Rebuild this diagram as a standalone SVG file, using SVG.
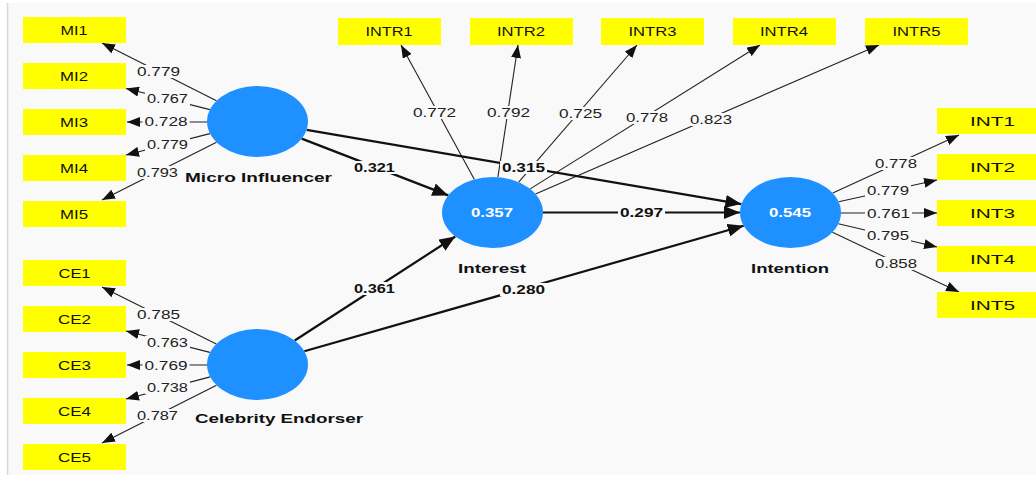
<svg xmlns="http://www.w3.org/2000/svg" width="1036" height="477" viewBox="0 0 1036 477">
<style>
.box{fill:#ffff00}
.bt{font-family:"Liberation Sans",Arial,sans-serif;font-size:13px;fill:#111;text-anchor:middle}
.lv{fill:#1e90ff}
.nt{font-family:"Liberation Sans",Arial,sans-serif;font-size:13.5px;font-weight:bold;fill:#111;text-anchor:middle}
.vt{font-family:"Liberation Sans",Arial,sans-serif;font-size:13px;font-weight:bold;fill:#fff;text-anchor:middle}
.ld{stroke:#222;stroke-width:1.1;fill:none;marker-end:url(#a1)}
.st{stroke:#111;stroke-width:2.2;fill:none;marker-end:url(#a2)}
.lb{fill:#f9f9f9}
.lt{font-family:"Liberation Sans",Arial,sans-serif;font-size:13px;fill:#222;text-anchor:middle}
.pt{font-family:"Liberation Sans",Arial,sans-serif;font-size:13px;font-weight:bold;fill:#111;text-anchor:middle}
</style>
<defs>
<marker id="a1" markerUnits="userSpaceOnUse" markerWidth="13" markerHeight="10" refX="13" refY="5" orient="auto"><path d="M0,0 L13,5 L0,10 z" fill="#111"/></marker>
<marker id="a2" markerUnits="userSpaceOnUse" markerWidth="16" markerHeight="13" refX="16" refY="6.5" orient="auto"><path d="M0,0 L16,6.5 L0,13 z" fill="#111"/></marker>
</defs>
<rect x="0" y="0" width="1036" height="477" fill="#ffffff"/>
<rect x="8" y="3" width="1028" height="472" fill="#f9f9f9"/>
<line x1="7.5" y1="3" x2="7.5" y2="475" stroke="#d8d8d8" stroke-width="1.5"/>

<g id="connectors">
<path class="ld" d="M216.5,100.8 L102,43"/>
<path class="ld" d="M209.9,109.6 L126,88.5"/>
<path class="ld" d="M207,122 L127,122"/>
<path class="ld" d="M209.9,133.6 L126,155"/>
<path class="ld" d="M216.5,142.2 L102,200"/>
<path class="ld" d="M216.3,344 L102,287"/>
<path class="ld" d="M209.9,352.4 L126,331"/>
<path class="ld" d="M207,365 L127,365"/>
<path class="ld" d="M210.2,376.9 L126,399"/>
<path class="ld" d="M216.5,385.2 L102,443"/>
<path class="ld" d="M474.4,179.4 L401,45"/>
<path class="ld" d="M497.9,177.2 L518,45"/>
<path class="ld" d="M518.7,182.1 L637,45"/>
<path class="ld" d="M530.2,188.9 L760,45"/>
<path class="ld" d="M535.5,193.9 L879,45"/>
<path class="ld" d="M832.8,193.1 L959,135"/>
<path class="ld" d="M838.7,201.8 L937,180"/>
<path class="ld" d="M841,213 L937,213"/>
<path class="ld" d="M838.4,223.8 L937,247"/>
<path class="ld" d="M832.4,232.3 L959,292"/>
<path class="st" d="M301.7,138.6 L448.3,195.4"/>
<path class="st" d="M306.6,129.9 L741.4,204.1"/>
<path class="st" d="M543,212.5 L740,212.5"/>
<path class="st" d="M294.7,340.5 L455.3,236.5"/>
<path class="st" d="M304.3,351.2 L743.7,225.8"/>

<rect class="lb" x="135" y="65" width="47" height="13"/><text class="lt" x="158.5" y="76" textLength="43" lengthAdjust="spacingAndGlyphs">0.779</text>
<rect class="lb" x="145" y="92" width="45" height="13"/><text class="lt" x="167.5" y="103" textLength="41" lengthAdjust="spacingAndGlyphs">0.767</text>
<rect class="lb" x="142.5" y="115" width="47" height="13"/><text class="lt" x="166" y="126" textLength="43" lengthAdjust="spacingAndGlyphs">0.728</text>
<rect class="lb" x="145" y="138" width="45" height="13"/><text class="lt" x="167.5" y="149" textLength="41" lengthAdjust="spacingAndGlyphs">0.779</text>
<rect class="lb" x="135" y="166" width="45" height="13"/><text class="lt" x="157.5" y="177" textLength="41" lengthAdjust="spacingAndGlyphs">0.793</text>

<rect class="lb" x="135" y="308" width="47" height="13"/><text class="lt" x="158.5" y="319" textLength="43" lengthAdjust="spacingAndGlyphs">0.785</text>
<rect class="lb" x="145" y="336" width="45" height="13"/><text class="lt" x="167.5" y="347" textLength="41" lengthAdjust="spacingAndGlyphs">0.763</text>
<rect class="lb" x="142.5" y="359" width="47" height="13"/><text class="lt" x="166" y="370" textLength="43" lengthAdjust="spacingAndGlyphs">0.769</text>
<rect class="lb" x="145" y="381" width="45" height="13"/><text class="lt" x="167.5" y="392" textLength="41" lengthAdjust="spacingAndGlyphs">0.738</text>
<rect class="lb" x="135" y="409" width="45" height="13"/><text class="lt" x="157.5" y="420" textLength="41" lengthAdjust="spacingAndGlyphs">0.787</text>

<rect class="lb" x="411" y="106" width="47" height="13"/><text class="lt" x="434.5" y="117" textLength="43" lengthAdjust="spacingAndGlyphs">0.772</text>
<rect class="lb" x="485" y="106" width="47" height="13"/><text class="lt" x="508.5" y="117" textLength="43" lengthAdjust="spacingAndGlyphs">0.792</text>
<rect class="lb" x="557" y="107" width="47" height="13"/><text class="lt" x="580.5" y="118" textLength="43" lengthAdjust="spacingAndGlyphs">0.725</text>
<rect class="lb" x="624" y="111" width="46" height="13"/><text class="lt" x="647" y="122" textLength="42" lengthAdjust="spacingAndGlyphs">0.778</text>
<rect class="lb" x="688" y="113" width="46" height="13"/><text class="lt" x="711" y="124" textLength="42" lengthAdjust="spacingAndGlyphs">0.823</text>

<rect class="lb" x="873" y="157" width="46" height="13"/><text class="lt" x="896" y="168" textLength="42" lengthAdjust="spacingAndGlyphs">0.778</text>
<rect class="lb" x="865" y="184" width="46" height="13"/><text class="lt" x="888" y="195" textLength="42" lengthAdjust="spacingAndGlyphs">0.779</text>
<rect class="lb" x="865" y="207" width="47" height="13"/><text class="lt" x="888.5" y="218" textLength="43" lengthAdjust="spacingAndGlyphs">0.761</text>
<rect class="lb" x="865" y="229" width="46" height="13"/><text class="lt" x="888" y="240" textLength="42" lengthAdjust="spacingAndGlyphs">0.795</text>
<rect class="lb" x="873" y="257" width="46" height="13"/><text class="lt" x="896" y="268" textLength="42" lengthAdjust="spacingAndGlyphs">0.858</text>

<rect class="lb" x="352" y="161" width="45" height="13"/><text class="pt" x="374.5" y="172" textLength="41" lengthAdjust="spacingAndGlyphs">0.321</text>
<rect class="lb" x="352" y="282" width="45" height="13"/><text class="pt" x="374.5" y="293" textLength="41" lengthAdjust="spacingAndGlyphs">0.361</text>
<rect class="lb" x="500" y="161" width="47" height="13"/><text class="pt" x="523.5" y="172" textLength="43" lengthAdjust="spacingAndGlyphs">0.315</text>
<rect class="lb" x="618" y="206" width="47" height="13"/><text class="pt" x="641.5" y="217" textLength="43" lengthAdjust="spacingAndGlyphs">0.297</text>
<rect class="lb" x="500" y="283" width="47" height="13"/><text class="pt" x="523.5" y="294" textLength="43" lengthAdjust="spacingAndGlyphs">0.280</text>
</g>

<g id="MI1"><rect class="box" x="23" y="17" width="103" height="26"/><text class="bt" x="74" y="34.5" textLength="27" lengthAdjust="spacingAndGlyphs">MI1</text></g>
<g id="MI2"><rect class="box" x="23" y="63" width="103" height="26"/><text class="bt" x="74" y="80.5" textLength="28" lengthAdjust="spacingAndGlyphs">MI2</text></g>
<g id="MI3"><rect class="box" x="23" y="109" width="103" height="26"/><text class="bt" x="74" y="126.5" textLength="28" lengthAdjust="spacingAndGlyphs">MI3</text></g>
<g id="MI4"><rect class="box" x="23" y="155" width="103" height="26"/><text class="bt" x="74" y="172.5" textLength="28" lengthAdjust="spacingAndGlyphs">MI4</text></g>
<g id="MI5"><rect class="box" x="23" y="201" width="103" height="26"/><text class="bt" x="74" y="218.5" textLength="28" lengthAdjust="spacingAndGlyphs">MI5</text></g>

<g id="CE1"><rect class="box" x="23" y="260" width="103" height="26"/><text class="bt" x="74.5" y="277.5" textLength="32" lengthAdjust="spacingAndGlyphs">CE1</text></g>
<g id="CE2"><rect class="box" x="23" y="306" width="103" height="26"/><text class="bt" x="74.5" y="323.5" textLength="33" lengthAdjust="spacingAndGlyphs">CE2</text></g>
<g id="CE3"><rect class="box" x="23" y="352" width="103" height="26"/><text class="bt" x="74.5" y="369.5" textLength="33" lengthAdjust="spacingAndGlyphs">CE3</text></g>
<g id="CE4"><rect class="box" x="23" y="398" width="103" height="26"/><text class="bt" x="74.5" y="415.5" textLength="33" lengthAdjust="spacingAndGlyphs">CE4</text></g>
<g id="CE5"><rect class="box" x="23" y="444" width="103" height="26"/><text class="bt" x="74.5" y="461.5" textLength="33" lengthAdjust="spacingAndGlyphs">CE5</text></g>

<g id="INTR1"><rect class="box" x="338" y="18" width="103" height="27"/><text class="bt" x="389" y="36" textLength="47" lengthAdjust="spacingAndGlyphs">INTR1</text></g>
<g id="INTR2"><rect class="box" x="470" y="18" width="103" height="27"/><text class="bt" x="521" y="36" textLength="48" lengthAdjust="spacingAndGlyphs">INTR2</text></g>
<g id="INTR3"><rect class="box" x="601" y="18" width="103" height="27"/><text class="bt" x="652.5" y="36" textLength="48" lengthAdjust="spacingAndGlyphs">INTR3</text></g>
<g id="INTR4"><rect class="box" x="733" y="18" width="103" height="27"/><text class="bt" x="784" y="36" textLength="48" lengthAdjust="spacingAndGlyphs">INTR4</text></g>
<g id="INTR5"><rect class="box" x="865" y="18" width="103" height="27"/><text class="bt" x="916.5" y="36" textLength="48" lengthAdjust="spacingAndGlyphs">INTR5</text></g>

<g id="INT1"><rect class="box" x="937" y="108" width="110" height="26"/><text class="bt" x="992.5" y="126" textLength="45" lengthAdjust="spacingAndGlyphs">INT1</text></g>
<g id="INT2"><rect class="box" x="937" y="154" width="110" height="26"/><text class="bt" x="992.5" y="172" textLength="45" lengthAdjust="spacingAndGlyphs">INT2</text></g>
<g id="INT3"><rect class="box" x="937" y="200" width="110" height="26"/><text class="bt" x="992.5" y="218" textLength="45" lengthAdjust="spacingAndGlyphs">INT3</text></g>
<g id="INT4"><rect class="box" x="937" y="246" width="110" height="26"/><text class="bt" x="992.5" y="264" textLength="45" lengthAdjust="spacingAndGlyphs">INT4</text></g>
<g id="INT5"><rect class="box" x="937" y="292" width="110" height="26"/><text class="bt" x="992.5" y="310" textLength="45" lengthAdjust="spacingAndGlyphs">INT5</text></g>

<g id="MicroInfluencer"><ellipse class="lv" cx="257.5" cy="121.5" rx="50.5" ry="35.5"/><text class="nt" x="258.5" y="182" textLength="147" lengthAdjust="spacingAndGlyphs">Micro Influencer</text></g>
<g id="CelebrityEndorser"><ellipse class="lv" cx="257.5" cy="364.5" rx="50.5" ry="35.5"/><text class="nt" x="279" y="423" textLength="168" lengthAdjust="spacingAndGlyphs">Celebrity Endorser</text></g>
<g id="Interest"><ellipse class="lv" cx="492.5" cy="212.5" rx="50.5" ry="35.5"/><text class="vt" x="492" y="217" textLength="42" lengthAdjust="spacingAndGlyphs">0.357</text><text class="nt" x="492" y="273" textLength="68" lengthAdjust="spacingAndGlyphs">Interest</text></g>
<g id="Intention"><ellipse class="lv" cx="790.5" cy="212.5" rx="50.5" ry="35.5"/><text class="vt" x="790" y="217" textLength="42" lengthAdjust="spacingAndGlyphs">0.545</text><text class="nt" x="790" y="273" textLength="78" lengthAdjust="spacingAndGlyphs">Intention</text></g>
</svg>
